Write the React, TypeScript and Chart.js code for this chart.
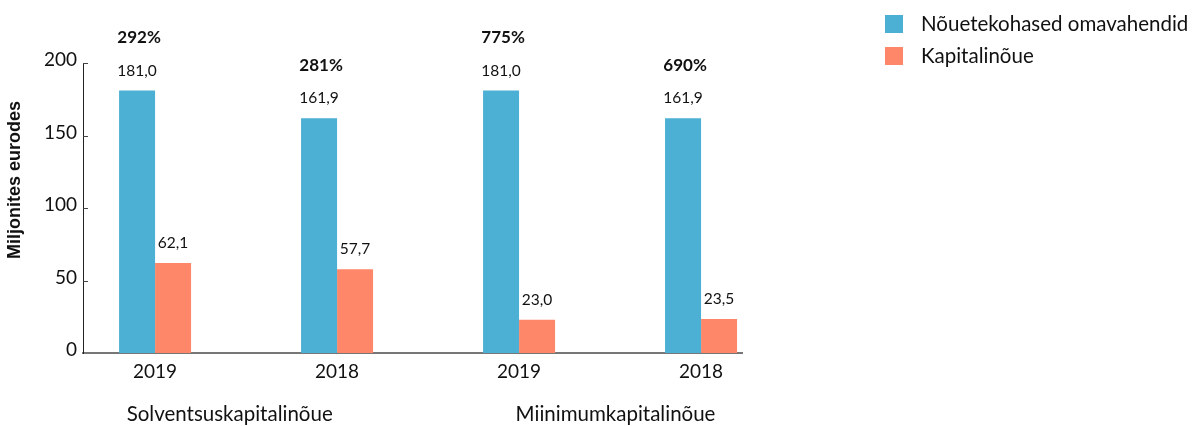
import React, { useEffect, useRef } from "react";
import { Chart, registerables } from "chart.js";

Chart.register(...registerables);

const categories = ["2019", "2018", "2019", "2018"];
const groupLabels = ["Solventsuskapitalinõue", "Miinimumkapitalinõue"];
const ownFunds = [181.0, 161.9, 181.0, 161.9];
const requirement = [62.1, 57.7, 23.0, 23.5];
const ratios = ["292%", "281%", "775%", "690%"];
const yTicks = [0, 50, 100, 150, 200];
const seriesNames = ["Nõuetekohased omavahendid", "Kapitalinõue"];
const yTitle = "Miljonites eurodes";

const BLUE = "#4bb0d3";
const ORANGE = "#ff8769";
const TEXT = "#111";
const FONT = "Lato";

const fmt = (v: number) => v.toFixed(1).replace(".", ",");

const overlayPlugin = {
  id: "overlay",
  afterDraw(chart: any) {
    const ctx = chart.ctx as CanvasRenderingContext2D;
    const x = chart.scales.x;
    const y = chart.scales.y;
    const area = chart.chartArea;
    ctx.save();
    // inner tick marks on y axis
    ctx.strokeStyle = "#444";
    ctx.lineWidth = 1;
    yTicks.forEach((t) => {
      if (t === 0) return;
      const py = Math.round(y.getPixelForValue(t)) + 0.5;
      ctx.beginPath();
      ctx.moveTo(area.left, py);
      ctx.lineTo(area.left + 5, py);
      ctx.stroke();
    });
    // value labels
    ctx.fillStyle = TEXT;
    ctx.textAlign = "center";
    ctx.textBaseline = "middle";
    ctx.font = `15.5px ${FONT}`;
    chart.data.datasets.forEach((ds: any, di: number) => {
      const meta = chart.getDatasetMeta(di);
      meta.data.forEach((el: any, i: number) => {
        ctx.fillText(fmt(ds.data[i].y), el.x, el.y - 20);
      });
    });
    // ratio labels
    ctx.font = `bold 17px ${FONT}`;
    const meta0 = chart.getDatasetMeta(0);
    meta0.data.forEach((el: any, i: number) => {
      ctx.fillText(ratios[i], el.x + 2, el.y - 53);
    });
    // group labels
    ctx.font = `20.5px ${FONT}`;
    const groupPos = [0.41, 2.53];
    groupLabels.forEach((g, i) => {
      ctx.fillText(g, x.getPixelForValue(groupPos[i]), 414);
    });
    // y title
    ctx.save();
    ctx.translate(15, 180);
    ctx.rotate(-Math.PI / 2);
    ctx.font = `bold 18px "Liberation Sans", Arial, sans-serif`;
    ctx.fillText(yTitle, 0, 0);
    ctx.restore();
    // legend
    const colors = [BLUE, ORANGE];
    ctx.textAlign = "left";
    ctx.font = `20.5px ${FONT}`;
    seriesNames.forEach((n, i) => {
      const top = 15 + i * 32;
      ctx.fillStyle = colors[i];
      ctx.fillRect(885, top, 18, 18);
      ctx.fillStyle = TEXT;
      ctx.fillText(n, 921, top + 9);
    });
    ctx.restore();
  },
};

export default function App() {
  const ref = useRef<HTMLCanvasElement | null>(null);
  useEffect(() => {
    if (!ref.current) return;
    const chart = new Chart(ref.current, {
      type: "bar",
      data: {
        datasets: [
          {
            label: seriesNames[0],
            data: ownFunds.map((v, i) => ({ x: i, y: v })),
            backgroundColor: BLUE,
          },
          {
            label: seriesNames[1],
            data: requirement.map((v, i) => ({ x: i, y: v })),
            backgroundColor: ORANGE,
          },
        ],
      },
      options: {
        responsive: false,
        animation: false,
        devicePixelRatio: 1,
        layout: { padding: { left: 0, right: 452, top: 63, bottom: 0 } },
        datasets: {
          bar: { categoryPercentage: 0.3956, barPercentage: 1 },
        },
        plugins: {
          legend: { display: false },
          tooltip: { enabled: false },
        },
        scales: {
          x: {
            type: "linear",
            offset: false,
            min: -0.396,
            max: 3.225,
            grid: { display: false, drawTicks: false },
            border: { display: true, color: "#777", width: 2 },
            afterBuildTicks: (s: any) => {
              s.ticks = categories.map((_, i) => ({ value: i }));
            },
            afterFit: (s: any) => {
              s.height = 73;
            },
            ticks: {
              autoSkip: false,
              maxRotation: 0,
              padding: 7,
              color: TEXT,
              font: { family: FONT, size: 19 },
              callback: (v: any) => categories[v as number] ?? "",
            },
          },
          y: {
            type: "linear",
            min: 0,
            max: 200,
            grid: { display: false, drawTicks: false },
            border: { display: true, color: "#222", width: 1 },
            afterBuildTicks: (s: any) => {
              s.ticks = yTicks.map((v) => ({ value: v }));
            },
            afterFit: (s: any) => {
              s.width = 83;
            },
            ticks: {
              padding: 6,
              labelOffset: -3,
              color: TEXT,
              font: { family: FONT, size: 19 },
            },
          },
        },
      },
      plugins: [overlayPlugin],
    } as any);
    return () => chart.destroy();
  }, []);
  return (
    <div style={{ position: "fixed", left: 0, top: 0, width: 1194, height: 426, background: "#fff" }}>
      <canvas ref={ref} width={1194} height={426} />
    </div>
  );
}
